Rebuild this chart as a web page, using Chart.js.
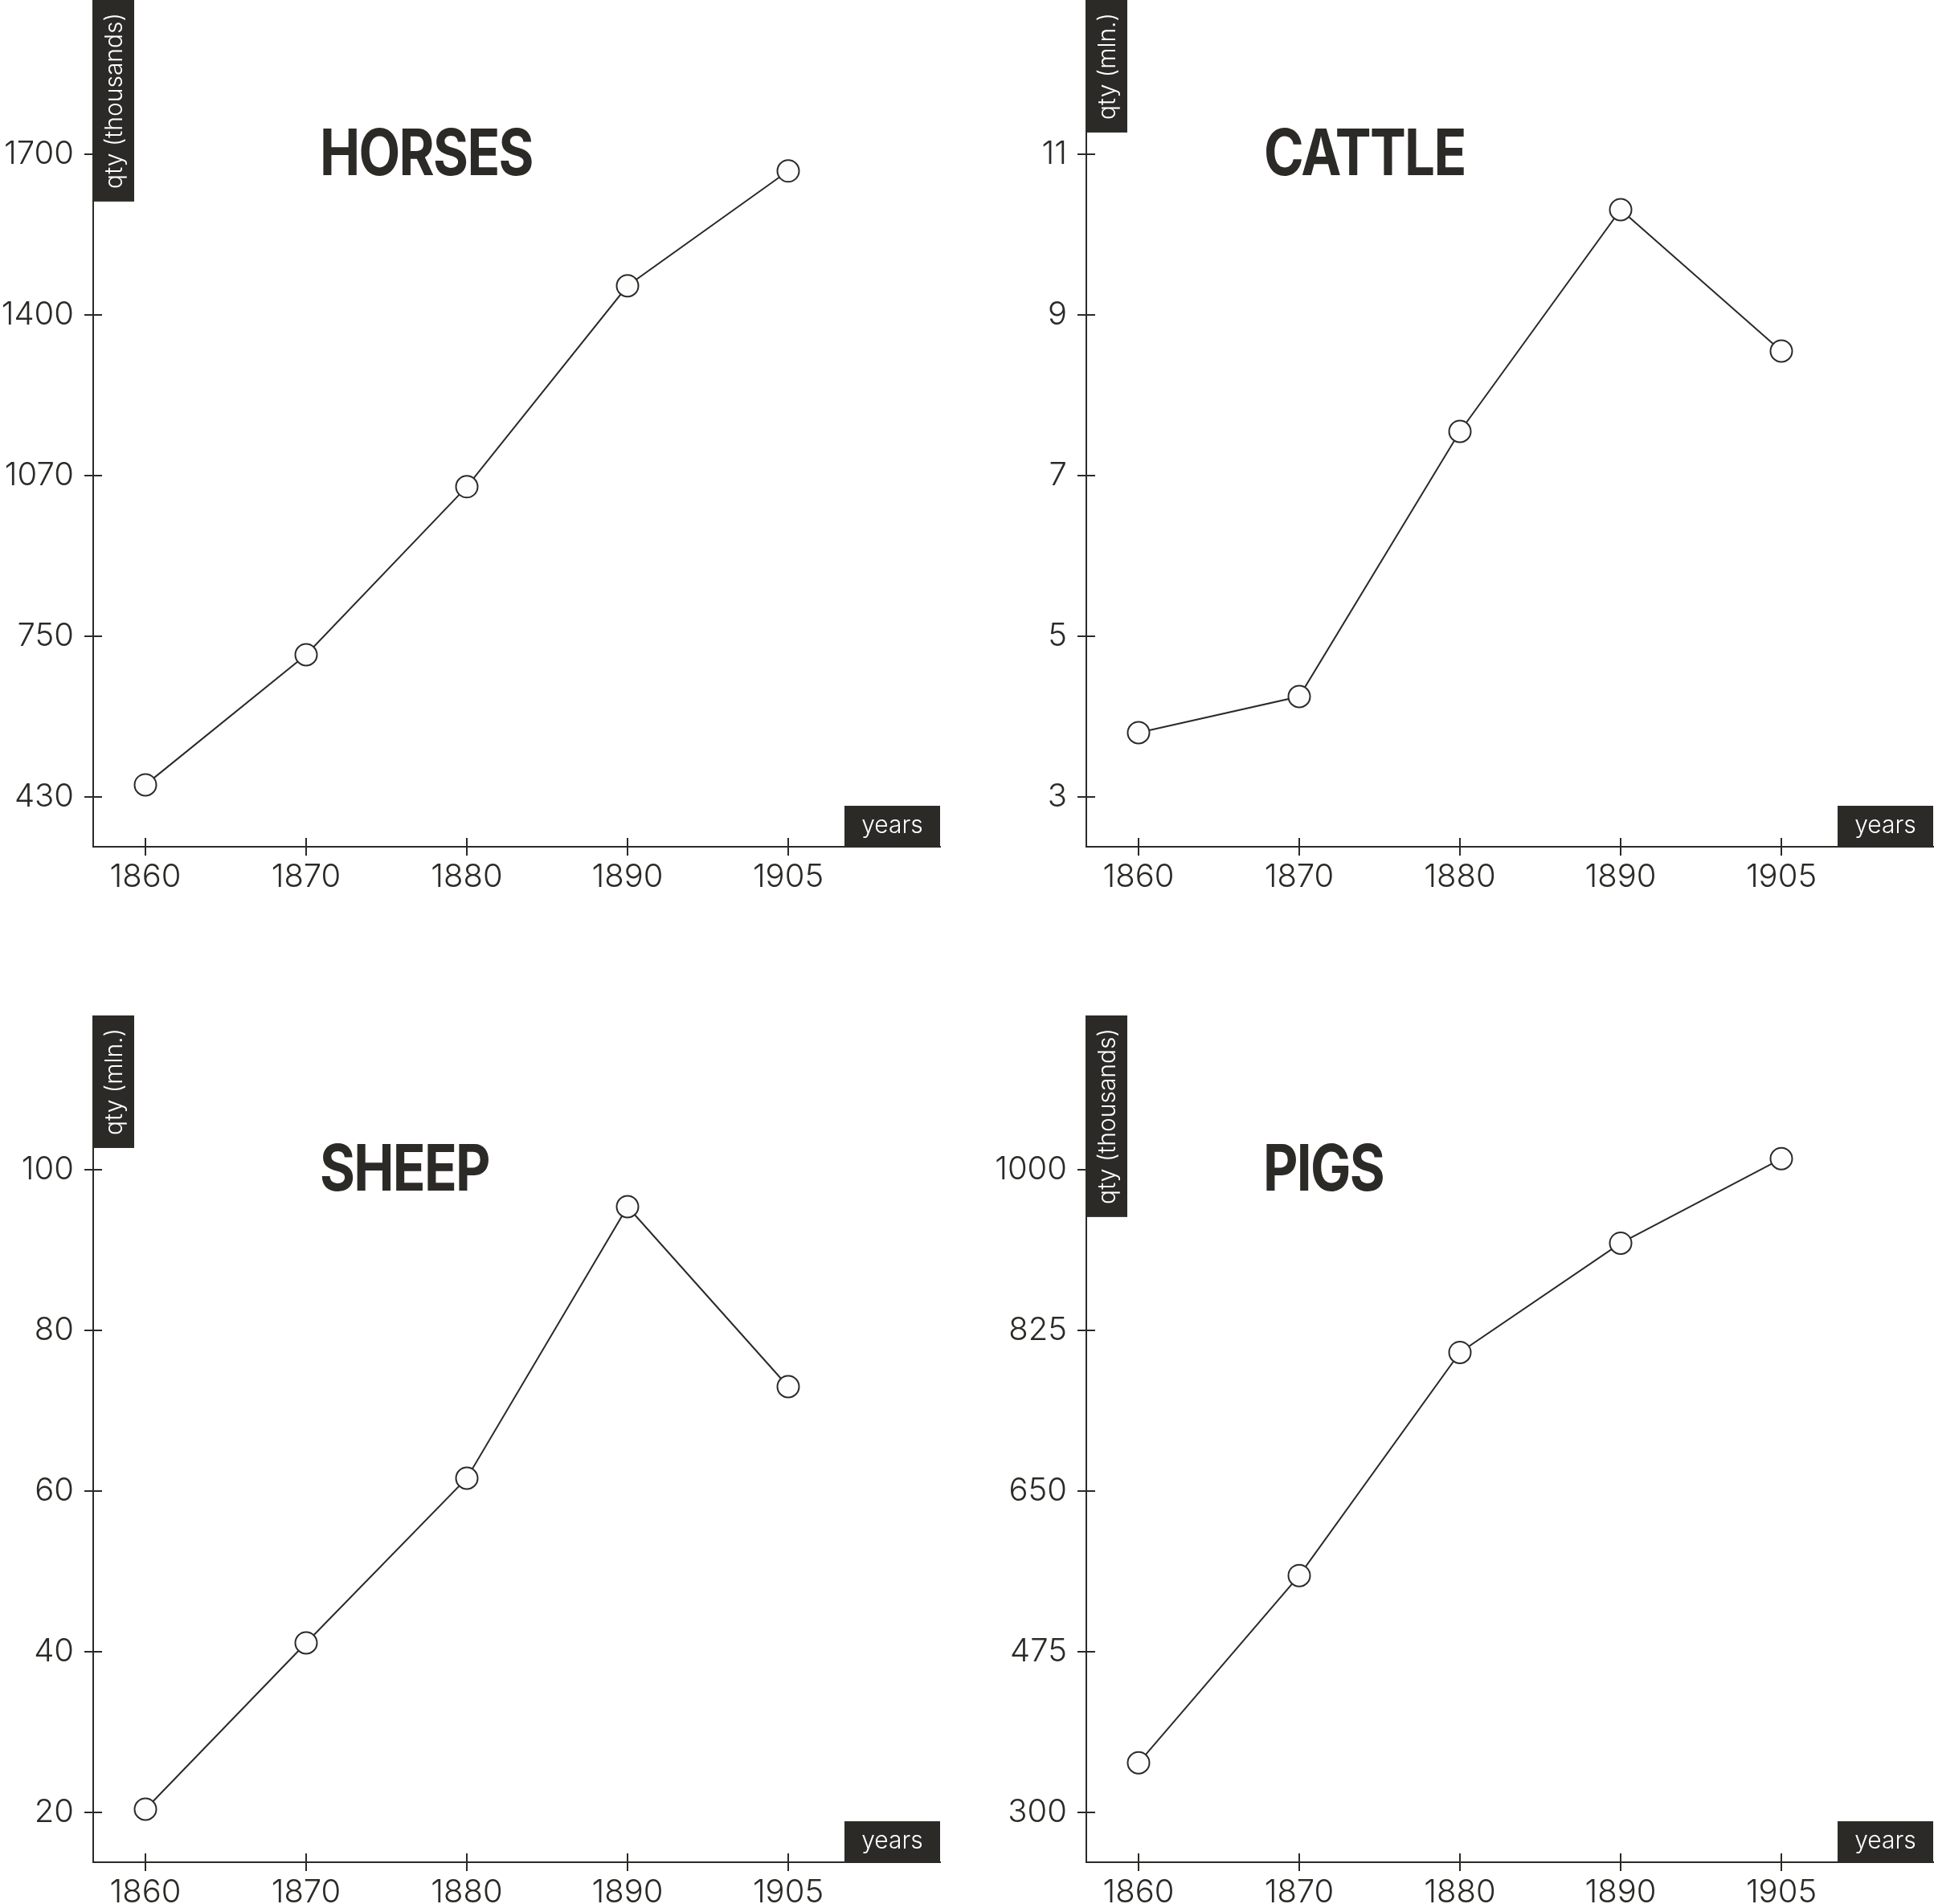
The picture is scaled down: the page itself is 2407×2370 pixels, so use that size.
<!DOCTYPE html>
<html>
<head>
<meta charset="utf-8">
<script src="https://cdn.jsdelivr.net/npm/chart.js@4.4.1/dist/chart.umd.min.js"></script>
<style>
  html, body { margin: 0; padding: 0; background: #ffffff; overflow: hidden; width: 2407px; height: 2370px; }
  .panel { position: absolute; }
  canvas { display: block; }
</style>
</head>
<body>
<div class="panel" style="left:0px;top:0px"><canvas id="c0" width="1200" height="1264"></canvas></div>
<div class="panel" style="left:1236px;top:0px"><canvas id="c1" width="1200" height="1264"></canvas></div>
<div class="panel" style="left:0px;top:1264px"><canvas id="c2" width="1200" height="1264"></canvas></div>
<div class="panel" style="left:1236px;top:1264px"><canvas id="c3" width="1200" height="1264"></canvas></div>
<script>
// ---- data ----
const years = ['1860', '1870', '1880', '1890', '1905'];

const horses = [454, 711, 1043, 1440, 1667];
const cattle = [3.80, 4.25, 7.55, 10.31, 8.55];
const sheep  = [20.4, 41.1, 61.6, 95.4, 73.0];
const pigs   = [354, 558, 801, 920, 1012];

const horsesTicks = ['430', '750', '1070', '1400', '1700'];
const cattleTicks = ['3', '5', '7', '9', '11'];
const sheepTicks  = ['20', '40', '60', '80', '100'];
const pigsTicks   = ['300', '475', '650', '825', '1000'];

const titles = ['HORSES', 'CATTLE', 'SHEEP', 'PIGS'];
const unitLabels = ['qty (thousands)', 'qty (mln.)', 'qty (mln.)', 'qty (thousands)'];
const xAxisLabel = 'years';

// ---- style ----
const INK = '#2b2a27';
const FONT = 'Inter';

const decorPlugin = {
  id: 'decor',
  afterDraw(chart) {
    const ctx = chart.ctx;
    const xs = chart.scales.x, ys = chart.scales.y;
    const a = chart.chartArea;
    const o = chart.options.plugins.decor;
    ctx.save();
    // crossing tick marks
    ctx.strokeStyle = INK;
    ctx.lineWidth = 2;
    ctx.beginPath();
    ys.ticks.forEach(t => {
      const py = Math.round(ys.getPixelForValue(t.value));
      ctx.moveTo(a.left - 11, py); ctx.lineTo(a.left + 11, py);
    });
    xs.ticks.forEach(t => {
      const px = Math.round(xs.getPixelForValue(t.value));
      ctx.moveTo(px, a.bottom - 11); ctx.lineTo(px, a.bottom + 11);
    });
    ctx.stroke();

    // y unit label box (rotated)
    ctx.font = '300 30px ' + FONT;
    const tw = ctx.measureText(o.unit).width;
    const bw = 51, bh = tw + 32;
    ctx.fillStyle = INK;
    ctx.fillRect(a.left, a.top, bw, bh);
    ctx.save();
    ctx.translate(a.left + bw / 2, a.top + bh / 2);
    ctx.rotate(-Math.PI / 2);
    ctx.fillStyle = '#ffffff';
    ctx.textAlign = 'center';
    ctx.textBaseline = 'middle';
    ctx.fillText(o.unit, 0, 1);
    ctx.restore();

    // x unit label box
    const xw = 119, xh = 51;
    ctx.fillStyle = INK;
    ctx.fillRect(a.right - xw, a.bottom - xh, xw, xh);
    ctx.fillStyle = '#ffffff';
    ctx.textAlign = 'center';
    ctx.textBaseline = 'middle';
    ctx.fillText(xAxisLabel, a.right - xw / 2, a.bottom - xh / 2 - 1);

    // title
    ctx.save();
    ctx.translate(o.titleX, 218);
    ctx.scale(0.84, 1);
    ctx.font = '700 80px ' + FONT;
    try { ctx.letterSpacing = '-2px'; } catch (e) {}
    ctx.fillStyle = INK;
    ctx.textAlign = 'left';
    ctx.textBaseline = 'alphabetic';
    ctx.fillText(o.title, 0, 0);
    ctx.restore();
    ctx.restore();
  }
};

function makeChart(id, title, unit, values, tickLabels, titleX) {
  const lo = parseFloat(tickLabels[0]);
  const hi = parseFloat(tickLabels[tickLabels.length - 1]);
  const step = (hi - lo) / (tickLabels.length - 1);
  const tickVals = tickLabels.map((_, i) => lo + i * step);
  new Chart(document.getElementById(id), {
    type: 'line',
    data: {
      datasets: [{
        data: values.map((v, i) => ({ x: i, y: v })),
        borderColor: INK,
        borderWidth: 2,
        tension: 0,
        pointRadius: 13.5,
        pointHoverRadius: 13.5,
        pointBorderWidth: 2,
        pointBorderColor: INK,
        pointBackgroundColor: '#fdfdfd',
        clip: false
      }]
    },
    options: {
      responsive: false,
      animation: false,
      events: [],
      layout: { autoPadding: false, padding: { left: 0, right: 30, top: 0, bottom: 0 } },
      plugins: {
        legend: { display: false },
        tooltip: { enabled: false },
        decor: { title: title, unit: unit, titleX: titleX }
      },
      scales: {
        x: {
          type: 'linear',
          min: -0.325,
          max: 4.945,
          afterBuildTicks: s => { s.ticks = years.map((_, i) => ({ value: i })); },
          afterFit: s => { s.height = 210; s.paddingLeft = 0; s.paddingRight = 0; },
          grid: { display: false, drawTicks: false },
          border: { display: true, color: INK, width: 2 },
          ticks: {
            color: INK,
            font: { family: FONT, size: 40, weight: 300 },
            padding: 14,
            maxRotation: 0,
            autoSkip: false,
            callback: (v, i) => years[i]
          }
        },
        y: {
          type: 'linear',
          min: lo - step * 62 / 200,
          max: hi + step * 192 / 200,
          afterBuildTicks: s => { s.ticks = tickVals.map(v => ({ value: v })); },
          afterFit: s => { s.width = 116; s.paddingTop = 0; s.paddingBottom = 0; },
          grid: { display: false, drawTicks: false },
          border: { display: true, color: INK, width: 2 },
          ticks: {
            color: INK,
            font: { family: FONT, size: 40, weight: 300 },
            padding: 24,
            autoSkip: false,
            callback: (v, i) => tickLabels[i]
          }
        }
      }
    },
    plugins: [decorPlugin]
  });
}

makeChart('c0', titles[0], unitLabels[0], horses, horsesTicks, 398);
makeChart('c1', titles[1], unitLabels[1], cattle, cattleTicks, 337);
makeChart('c2', titles[2], unitLabels[2], sheep, sheepTicks, 398);
makeChart('c3', titles[3], unitLabels[3], pigs, pigsTicks, 336);
</script>
</body>
</html>
